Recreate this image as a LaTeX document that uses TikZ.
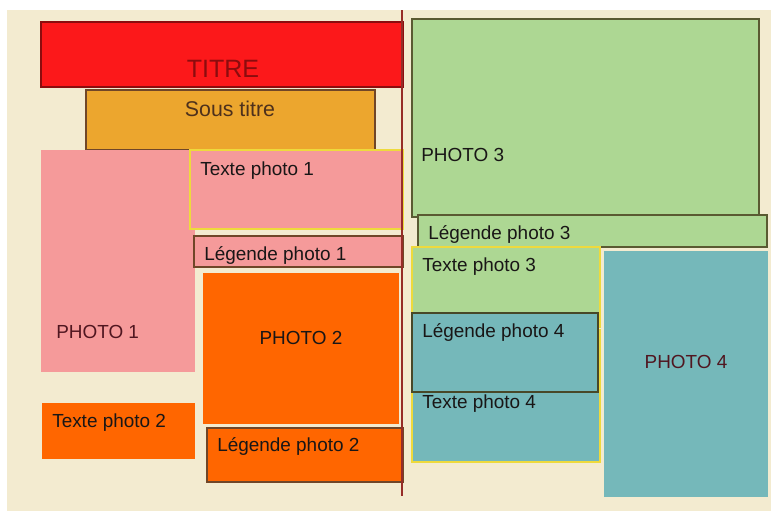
\documentclass[tikz,border=0pt]{standalone}
\usepackage{fontspec}
\setmainfont{Liberation Sans}
\usepackage{xcolor}
\definecolor{paperBg}{RGB}{243, 235, 208}
\definecolor{titleRed}{RGB}{252, 24, 26}
\definecolor{titleText}{RGB}{140, 12, 14}
\definecolor{subOrange}{RGB}{236, 166, 46}
\definecolor{photoPink}{RGB}{245, 154, 154}
\definecolor{photoOrange}{RGB}{255, 102, 0}
\definecolor{photoGreen}{RGB}{173, 215, 147}
\definecolor{photoTeal}{RGB}{117, 184, 186}
\definecolor{frameBrown}{RGB}{112, 70, 40}
\definecolor{frameOlive}{RGB}{90, 90, 50}
\definecolor{frameYellow}{RGB}{238, 218, 60}
\definecolor{lineRed}{RGB}{150, 45, 40}
\definecolor{textDark}{RGB}{25, 22, 22}
\definecolor{textMaroon}{RGB}{80, 22, 32}

\begin{document}
\begin{tikzpicture}[x=0.75pt, y=-0.75pt,
	lbl/.style={font=\fontsize{14.2}{16}\selectfont, text=textDark, inner sep=0pt, anchor=base west},
	thinframe/.style={line width=0.8pt}]
			\useasboundingbox (0, 0) rectangle (771, 512);
			
			% Paper background
			\fill[paperBg] (7, 10) rectangle (771, 511);
			
			% Title and subtitle
			\draw[thinframe, titleText, fill=titleRed] (41, 22) rectangle (403, 87);
			\node[lbl, anchor=base, text=titleText, font=\fontsize{18.8}{22}\selectfont] (titre) at (223, 77) {TITRE};
			\draw[thinframe, frameBrown, fill=subOrange] (86, 90) rectangle (375, 150);
			\node[lbl, anchor=base, text=frameBrown!70!black, font=\fontsize{16}{19}\selectfont] (soustitre) at (230, 116) {Sous titre};
			
			% Left page: photo 1 and photo 2
			\fill[photoPink] (41, 150) rectangle (195, 372);
			\node[lbl, text=textMaroon] (photoA) at (56, 338) {PHOTO 1};
			\draw[thinframe, frameYellow, fill=photoPink] (190, 150) rectangle (403, 229);
			\node[lbl] (texteA) at (200, 175) {Texte photo 1};
			\draw[thinframe, frameBrown, fill=photoPink] (194, 236) rectangle (403, 267);
			\node[lbl] (legendeA) at (204, 260) {Légende photo 1};
			
			\fill[photoOrange] (203, 273) rectangle (399, 424);
			\node[lbl, anchor=base] (photoB) at (301, 344) {PHOTO 2};
			\fill[photoOrange] (42, 403) rectangle (195, 459);
			\node[lbl] (texteB) at (52, 427) {Texte photo 2};
			\draw[thinframe, frameBrown, fill=photoOrange] (207, 428) rectangle (403, 482);
			\node[lbl] (legendeB) at (217, 451) {Légende photo 2};
			
			% Fold line
			\draw[line width=1.3pt, lineRed] (402, 10) -- (402, 496);
			
			% Right page: photo 3 and photo 4
			\draw[thinframe, frameOlive, fill=photoGreen] (412, 19) rectangle (759, 217);
			\node[lbl] (photoC) at (421, 161) {PHOTO 3};
			\draw[thinframe, frameOlive, fill=photoGreen] (418, 215) rectangle (767, 247);
			\node[lbl] (legendeC) at (428, 239) {Légende photo 3};
			\draw[thinframe, frameYellow, fill=photoGreen] (412, 247) rectangle (600, 327);
			\node[lbl] (texteC) at (422, 271) {Texte photo 3};
			\draw[thinframe, frameYellow, fill=photoTeal] (412, 330) rectangle (600, 462);
			\node[lbl] (texteD) at (422, 408) {Texte photo 4};
			\draw[thinframe, frameOlive!80!black, fill=photoTeal] (412, 313) rectangle (598, 392);
			\node[lbl] (legendeD) at (422, 337) {Légende photo 4};
			
			\fill[photoTeal] (604, 251) rectangle (768, 497);
			\node[lbl, anchor=base, text=textMaroon] (photoD) at (686, 368) {PHOTO 4};
		\end{tikzpicture}
\end{document}
